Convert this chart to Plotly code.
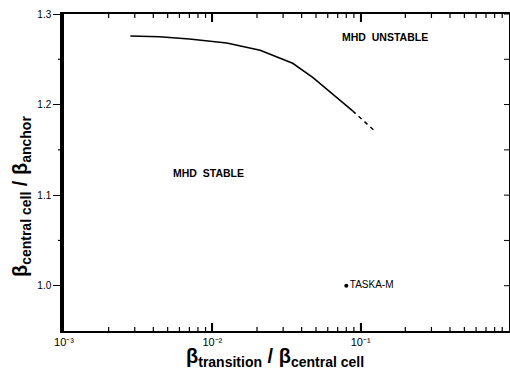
import plotly.graph_objects as go

# curve: solid part
x_solid = [0.0028, 0.0044, 0.0070, 0.0125, 0.021, 0.0348, 0.0475, 0.0689, 0.0883]
y_solid = [1.2756, 1.2748, 1.2725, 1.268, 1.260, 1.2456, 1.230, 1.208, 1.193]
# curve: dashed extrapolation
x_dash = [0.0883, 0.105, 0.126]
y_dash = [1.193, 1.182, 1.170]
# TASKA-M point
x_pt = [0.080]
y_pt = [1.0]
pt_label = ["TASKA-M"]

x_major = [0.001, 0.01, 0.1, 1.0]
x_major_text = ["10⁻³", "10⁻²", "10⁻¹", ""]
x_minor = [m * d for d in (0.001, 0.01, 0.1) for m in range(2, 10)]
y_major = [1.0, 1.1, 1.2, 1.3]
y_major_text = ["1.0", "1.1", "1.2", "1.3"]
y_minor = [1.05, 1.15, 1.25]

FONT = "Liberation Sans"

fig = go.Figure()
fig.add_trace(go.Scatter(x=x_solid, y=y_solid, mode="lines",
                         line=dict(color="black", width=1.5),
                         showlegend=False, hoverinfo="skip"))
fig.add_trace(go.Scatter(x=x_dash, y=y_dash, mode="lines",
                         line=dict(color="black", width=1.5, dash="4px,4px"),
                         showlegend=False, hoverinfo="skip"))
fig.add_trace(go.Scatter(x=x_pt, y=y_pt, mode="markers+text", text=pt_label,
                         textposition="middle right",
                         textfont=dict(family=FONT, size=10, color="black"),
                         marker=dict(color="black", size=4),
                         showlegend=False, hoverinfo="skip"))

fig.update_layout(
    xaxis=dict(type="log", range=[-3, 0], automargin=False,
               tickmode="array", tickvals=x_major, ticktext=x_major_text,
               ticks="inside", ticklen=8, tickwidth=1.5, tickcolor="black",
               showline=True, linecolor="black", linewidth=1.8, mirror="allticks",
               showgrid=False,
               tickfont=dict(family=FONT, size=11, color="black")),
    yaxis=dict(range=[0.95, 1.3], automargin=False,
               tickmode="array", tickvals=y_major, ticktext=y_major_text,
               ticks="outside", ticklen=7, tickwidth=1.2, tickcolor="black",
               showline=True, linecolor="black", linewidth=3.5, mirror="ticks",
               showgrid=False,
               tickfont=dict(family=FONT, size=10, color="black")),
)

# tick marks drawn as pixel-sized shapes anchored at the tick values
for v in x_major[1:3]:
    for anchor, length in ((0, 8), (1, -8)):
        fig.add_shape(type="line", xref="x", yref="paper", x0=v, x1=v,
                      ysizemode="pixel", yanchor=anchor, y0=0, y1=length,
                      line=dict(color="black", width=1.5))
for v in x_minor:
    for anchor, length in ((0, 4), (1, -4)):
        fig.add_shape(type="line", xref="x", yref="paper", x0=v, x1=v,
                      ysizemode="pixel", yanchor=anchor, y0=0, y1=length,
                      line=dict(color="black", width=1.2))
for v in y_minor:
    fig.add_shape(type="line", xref="paper", yref="y", y0=v, y1=v,
                  xsizemode="pixel", xanchor=0, x0=-2, x1=-6,
                  line=dict(color="black", width=1.2))
for v in y_major + y_minor:
    fig.add_shape(type="line", xref="paper", yref="y", y0=v, y1=v,
                  xsizemode="pixel", xanchor=1, x0=0, x1=-5,
                  line=dict(color="black", width=1))

fig.add_annotation(x=-0.838, y=1.2744, xref="x", yref="y", text="<b>MHD&nbsp;&nbsp;UNSTABLE</b>",
                   showarrow=False, font=dict(family=FONT, size=10.5, color="black"))
fig.add_annotation(x=-2.024, y=1.1244, xref="x", yref="y", text="<b>MHD&nbsp;&nbsp;STABLE</b>",
                   showarrow=False, font=dict(family=FONT, size=10.5, color="black"))

fig.add_annotation(x=0.474, y=-0.13, xref="paper", yref="paper",
                   text="<b>β<sub>transition</sub> / β<sub>central cell</sub></b>",
                   showarrow=False, font=dict(family=FONT, size=20, color="black"))
fig.add_annotation(x=-0.094, y=0.423, xref="paper", yref="paper", textangle=-90,
                   xanchor="center", yanchor="middle",
                   text="<b>β<sub>central cell</sub> / β<sub>anchor</sub></b>",
                   showarrow=False, font=dict(family=FONT, size=20, color="black"))

fig.update_layout(width=510, height=387,
                  margin=dict(l=64, r=1, t=14, b=56, autoexpand=False),
                  paper_bgcolor="white", plot_bgcolor="white")

fig.write_html("out.html", config={"displayModeBar": False},
               post_script="document.body.style.margin='0';")
